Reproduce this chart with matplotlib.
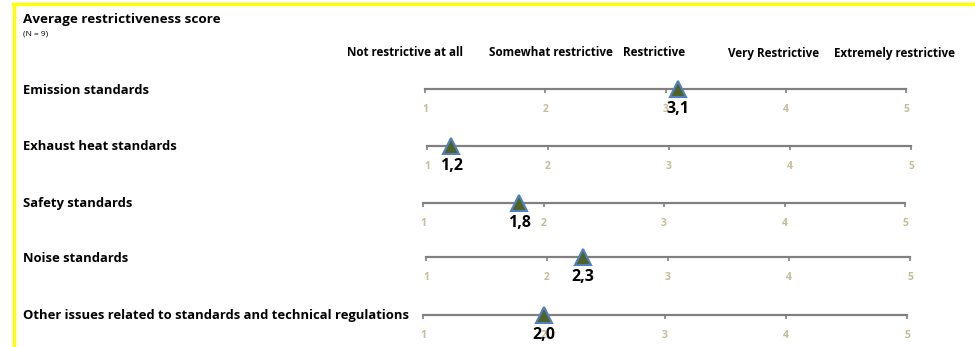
import matplotlib
matplotlib.use("Agg")
import matplotlib.pyplot as plt
from matplotlib.lines import Line2D

# ---- data ----
categories = [
    "Emission standards",
    "Exhaust heat standards",
    "Safety standards",
    "Noise standards",
    "Other issues related to standards and technical regulations",
]
scores = [3.1, 1.2, 1.8, 2.3, 2.0]
score_labels = ["3,1", "1,2", "1,8", "2,3", "2,0"]
scale_ticks = [1, 2, 3, 4, 5]
scale_names = ["Not restrictive at all", "Somewhat restrictive", "Restrictive",
               "Very Restrictive", "Extremely restrictive"]
title = "Average restrictiveness score"
subtitle = "(N = 9)"

# ---- layout (pixels) ----
W, H = 975, 347
FONT = "Open Sans"
row_y = [89, 146, 203, 257, 315]
row_x = [(425, 906), (427, 911), (423, 905), (426, 910), (423, 907)]
label_y = [90, 146, 203, 259, 316]
header_x = [405, 551, 654, 774, 894]
header_y = 53

fig = plt.figure(figsize=(W / 100, H / 100), dpi=100)

def fx(px):
    return px / W

def fy(py):
    return 1 - py / H

# yellow frame
fig.add_artist(Line2D([fx(13), fx(975)], [fy(3.5), fy(3.5)], color="#FFFF00", lw=2.4,
                      transform=fig.transFigure))
fig.add_artist(Line2D([fx(13.5), fx(13.5)], [fy(3.5), fy(347)], color="#FFFF00", lw=2.4,
                      transform=fig.transFigure))

fig.text(fx(23), fy(20), title, fontsize=9.7, fontweight="bold", family=FONT,
         ha="left", va="center")
fig.text(fx(23), fy(34), subtitle, fontsize=6, family=FONT, ha="left", va="center")

for name, x in zip(scale_names, header_x):
    fig.text(fx(x), fy(header_y), name, fontsize=8.4, fontweight="bold", family=FONT,
             ha="center", va="center")

ax_h = 40
for i, cat in enumerate(categories):
    fig.text(fx(23), fy(label_y[i]), cat, fontsize=9.4, fontweight="bold", family=FONT,
             ha="left", va="center")
    x0, x1 = row_x[i]
    yc = row_y[i]
    ax = fig.add_axes([fx(x0), fy(yc + ax_h / 2), fx(x1 - x0), ax_h / H])
    ax.set_xlim(scale_ticks[0], scale_ticks[-1])
    ax.set_ylim(-1, 1)
    ax.patch.set_alpha(0)
    for s in ["top", "left", "right"]:
        ax.spines[s].set_visible(False)
    ax.spines["bottom"].set_position(("data", 0))
    ax.spines["bottom"].set_color("#808080")
    ax.spines["bottom"].set_linewidth(1.6)
    ax.set_yticks([])
    ax.set_xticks(scale_ticks)
    ax.set_xticklabels([str(t) for t in scale_ticks])
    ax.tick_params(axis="x", direction="out", length=3, width=1.2, color="#808080",
                   labelsize=7.5, labelcolor="#C4BD97", pad=8)
    for lab in ax.get_xticklabels():
        lab.set_fontweight("bold")
        lab.set_family(FONT)
    ax.plot([scores[i]], [0], marker="^", markersize=12, markerfacecolor="#4F6228",
            markeredgecolor="#4F81BD", markeredgewidth=1.5, linestyle="none",
            clip_on=False, zorder=5)
    ax.annotate(score_labels[i], xy=(scores[i], 0), xytext=(0, -14.5),
                textcoords="offset points", ha="center", va="center",
                fontsize=11.5, fontweight="bold", family=FONT, zorder=6,
                annotation_clip=False)

fig.savefig("out.png", dpi=100)
